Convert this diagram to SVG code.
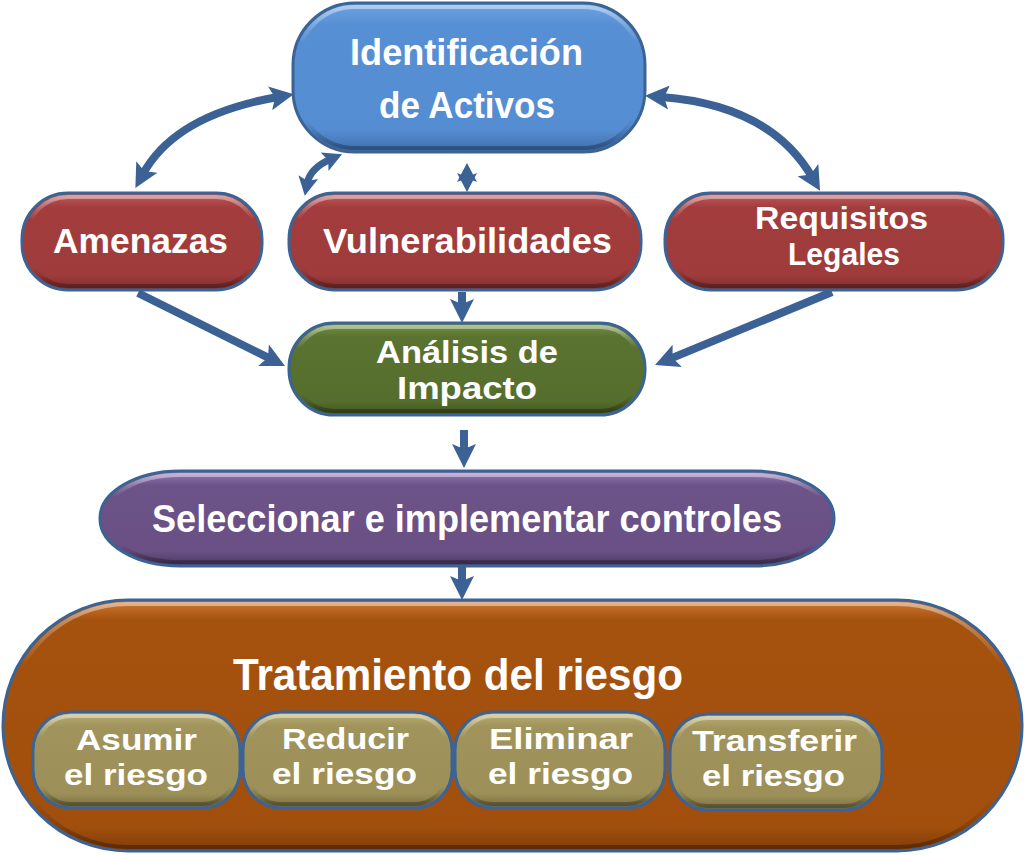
<svg xmlns="http://www.w3.org/2000/svg" width="1024" height="855" viewBox="0 0 1024 855">
<defs>
<style>
.node{stroke:#3B6393;stroke-width:3}
.hl{fill:none;stroke:url(#hl);stroke-width:4}
.t{font-family:"Liberation Sans",Arial,sans-serif;font-weight:bold;fill:#fff;text-anchor:middle}
.c{fill:none;stroke:#3B6195;stroke-width:8}
.cs{fill:none;stroke:#3B6195;stroke-width:7}
</style>
<linearGradient id="hl" x1="0" y1="0" x2="0" y2="1">
<stop offset="0" stop-color="#fff" stop-opacity="0.45"/>
<stop offset="0.25" stop-color="#fff" stop-opacity="0"/>
<stop offset="0.8" stop-color="#000" stop-opacity="0"/>
<stop offset="1" stop-color="#000" stop-opacity="0.3"/>
</linearGradient>
<linearGradient id="gBlue" x1="0" y1="0" x2="0" y2="1">
<stop offset="0" stop-color="#6FA3E2"/><stop offset="0.15" stop-color="#578FD4"/><stop offset="0.85" stop-color="#558DD2"/><stop offset="1" stop-color="#3E6EAA"/>
</linearGradient>
<linearGradient id="gRed" x1="0" y1="0" x2="0" y2="1">
<stop offset="0" stop-color="#C25A5A"/><stop offset="0.15" stop-color="#A33D3D"/><stop offset="0.85" stop-color="#9F3B3B"/><stop offset="1" stop-color="#7C2B2B"/>
</linearGradient>
<linearGradient id="gGreen" x1="0" y1="0" x2="0" y2="1">
<stop offset="0" stop-color="#789344"/><stop offset="0.15" stop-color="#5A7330"/><stop offset="0.85" stop-color="#566E2D"/><stop offset="1" stop-color="#40531F"/>
</linearGradient>
<linearGradient id="gPurple" x1="0" y1="0" x2="0" y2="1">
<stop offset="0" stop-color="#9A7DB8"/><stop offset="0.15" stop-color="#6C5388"/><stop offset="0.85" stop-color="#694F84"/><stop offset="1" stop-color="#4C3862"/>
</linearGradient>
<linearGradient id="gOrange" x1="0" y1="0" x2="0" y2="1">
<stop offset="0" stop-color="#D07A35"/><stop offset="0.08" stop-color="#A5520F"/><stop offset="0.9" stop-color="#A24F0D"/><stop offset="1" stop-color="#7F3D08"/>
</linearGradient>
<linearGradient id="gKhaki" x1="0" y1="0" x2="0" y2="1">
<stop offset="0" stop-color="#BBAF74"/><stop offset="0.15" stop-color="#A0945C"/><stop offset="0.85" stop-color="#9C9058"/><stop offset="1" stop-color="#776D40"/>
</linearGradient>
<marker id="ah" viewBox="-12 -12 30 24" markerUnits="userSpaceOnUse" markerWidth="30" markerHeight="24" refX="0" refY="0" orient="auto-start-reverse">
<path d="M16 0 L-8 -12 L-3 0 L-8 12 Z" fill="#3B6195"/>
</marker>
<marker id="ahs" viewBox="-10 -10 24 20" markerUnits="userSpaceOnUse" markerWidth="24" markerHeight="20" refX="0" refY="0" orient="auto-start-reverse">
<path d="M12 0 L-7 -10 L-3 0 L-7 10 Z" fill="#3B6195"/>
</marker>
</defs>
<rect width="1024" height="855" fill="#fff"/>

<g id="connectors">
<path class="c" d="M143,174 Q175,115 278,97" marker-start="url(#ah)" marker-end="url(#ah)"/>
<path class="c" d="M661,97 Q770,105 812,177" marker-start="url(#ah)" marker-end="url(#ah)"/>
<path class="cs" d="M331,159 Q310,168 307,184" marker-start="url(#ahs)" marker-end="url(#ahs)"/>
<path class="cs" d="M467,175 L467,180" marker-start="url(#ahs)" marker-end="url(#ahs)"/>
<path class="c" d="M462,292 L462,307" marker-end="url(#ah)"/>
<path class="c" d="M138,293 L270.7,358.9" marker-end="url(#ah)"/>
<path class="c" d="M832,292 L669.8,358.9" marker-end="url(#ah)"/>
<path class="c" d="M464,430 L464,452" marker-end="url(#ah)"/>
<path class="c" d="M462,566 L462,584" marker-end="url(#ah)"/>
</g>

<g id="identificacion">
<rect class="node" x="293" y="3" width="352" height="149" rx="62" ry="62" fill="url(#gBlue)"/>
<rect class="hl" x="297" y="7" width="344" height="141" rx="58" ry="58"/>
<text class="t" font-size="36"><tspan x="466.5" y="65" textLength="233" lengthAdjust="spacingAndGlyphs">Identificación</tspan><tspan x="467" y="118" textLength="176" lengthAdjust="spacingAndGlyphs">de Activos</tspan></text>
</g>

<g id="amenazas">
<rect class="node" x="22" y="193" width="240" height="97" rx="46" ry="46" fill="url(#gRed)"/>
<rect class="hl" x="26" y="197" width="232" height="89" rx="42" ry="42"/>
<text class="t" x="140.5" y="253" font-size="35" textLength="175" lengthAdjust="spacingAndGlyphs">Amenazas</text>
</g>

<g id="vulnerabilidades">
<rect class="node" x="289" y="193" width="352" height="97" rx="46" ry="46" fill="url(#gRed)"/>
<rect class="hl" x="293" y="197" width="344" height="89" rx="42" ry="42"/>
<text class="t" x="467.5" y="253" font-size="35" textLength="289" lengthAdjust="spacingAndGlyphs">Vulnerabilidades</text>
</g>

<g id="requisitos">
<rect class="node" x="665" y="193" width="338" height="97" rx="46" ry="46" fill="url(#gRed)"/>
<rect class="hl" x="669" y="197" width="330" height="89" rx="42" ry="42"/>
<text class="t" font-size="31"><tspan x="841.5" y="229" textLength="173" lengthAdjust="spacingAndGlyphs">Requisitos</tspan><tspan x="844" y="265" textLength="112" lengthAdjust="spacingAndGlyphs">Legales</tspan></text>
</g>

<g id="analisis">
<rect class="node" x="289" y="323" width="356" height="92" rx="45" ry="45" fill="url(#gGreen)"/>
<rect class="hl" x="293" y="327" width="348" height="84" rx="41" ry="41"/>
<text class="t" font-size="31"><tspan x="467" y="363" textLength="182" lengthAdjust="spacingAndGlyphs">Análisis de</tspan><tspan x="467" y="399" textLength="140" lengthAdjust="spacingAndGlyphs">Impacto</tspan></text>
</g>

<g id="seleccionar">
<rect class="node" x="100" y="471" width="734" height="95" rx="80" ry="47" fill="url(#gPurple)"/>
<rect class="hl" x="104" y="475" width="726" height="87" rx="76" ry="43"/>
<text class="t" x="467" y="532" font-size="38" textLength="630" lengthAdjust="spacingAndGlyphs">Seleccionar e implementar controles</text>
</g>

<g id="tratamiento">
<rect class="node" x="3" y="600" width="1019" height="251" rx="125" ry="125" fill="url(#gOrange)"/>
<rect class="hl" x="7" y="604" width="1011" height="243" rx="121" ry="121"/>
<text class="t" x="458" y="690" font-size="45" textLength="450" lengthAdjust="spacingAndGlyphs">Tratamiento del riesgo</text>
</g>

<g id="asumir">
<rect class="node" x="33" y="712" width="207" height="96" rx="38" ry="38" fill="url(#gKhaki)"/>
<rect class="hl" x="37" y="716" width="199" height="88" rx="34" ry="34"/>
<text class="t" font-size="30"><tspan x="136.5" y="750" textLength="121" lengthAdjust="spacingAndGlyphs">Asumir</tspan><tspan x="136" y="785" textLength="144" lengthAdjust="spacingAndGlyphs">el riesgo</tspan></text>
</g>

<g id="reducir">
<rect class="node" x="243" y="712" width="209" height="96" rx="38" ry="38" fill="url(#gKhaki)"/>
<rect class="hl" x="247" y="716" width="201" height="88" rx="34" ry="34"/>
<text class="t" font-size="30"><tspan x="345.5" y="749" textLength="127" lengthAdjust="spacingAndGlyphs">Reducir</tspan><tspan x="344.5" y="784" textLength="145" lengthAdjust="spacingAndGlyphs">el riesgo</tspan></text>
</g>

<g id="eliminar">
<rect class="node" x="455" y="712" width="210" height="96" rx="38" ry="38" fill="url(#gKhaki)"/>
<rect class="hl" x="459" y="716" width="202" height="88" rx="34" ry="34"/>
<text class="t" font-size="30"><tspan x="561" y="749" textLength="144" lengthAdjust="spacingAndGlyphs">Eliminar</tspan><tspan x="560.5" y="784" textLength="145" lengthAdjust="spacingAndGlyphs">el riesgo</tspan></text>
</g>

<g id="transferir">
<rect class="node" x="670" y="714" width="212" height="96" rx="38" ry="38" fill="url(#gKhaki)"/>
<rect class="hl" x="674" y="718" width="204" height="88" rx="34" ry="34"/>
<text class="t" font-size="30"><tspan x="774.5" y="751" textLength="165" lengthAdjust="spacingAndGlyphs">Transferir</tspan><tspan x="773.5" y="786" textLength="143" lengthAdjust="spacingAndGlyphs">el riesgo</tspan></text>
</g>
</svg>
